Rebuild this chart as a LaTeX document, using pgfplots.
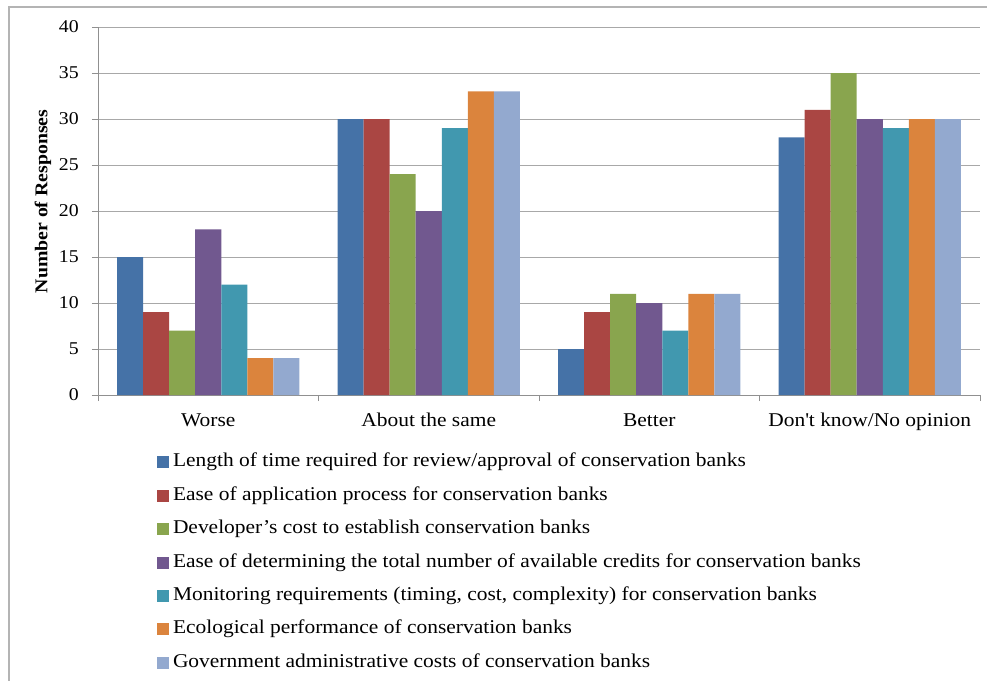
\documentclass[border=0pt]{standalone}
\usepackage{fontspec}
\setmainfont[FakeStretch=1.1]{Liberation Serif}
\usepackage{pgfplots}
\pgfplotsset{compat=1.18}
\usepackage{pgfplotstable}

\definecolor{cA}{HTML}{4572A7}
\definecolor{cB}{HTML}{AA4643}
\definecolor{cC}{HTML}{89A54E}
\definecolor{cD}{HTML}{71588F}
\definecolor{cE}{HTML}{4198AF}
\definecolor{cF}{HTML}{DB843D}
\definecolor{cG}{HTML}{93A9CF}
\definecolor{gridc}{HTML}{A8A8A8}
\definecolor{axisc}{HTML}{909090}
\definecolor{framec}{HTML}{B4B4B4}

% responses per category: Worse, About the same, Better, Don't know
\pgfplotstableread{
x s1 s2 s3 s4 s5 s6 s7
0 15 9  7  18 12 4  4
1 30 30 24 20 29 33 33
2 5  9  11 10 7  11 11
3 28 31 35 30 29 30 30
}\responses

\begin{document}
\begin{tikzpicture}
\useasboundingbox (0,0) rectangle (987bp,-681bp);
% chart frame
\draw[framec, line width=1.3bp] (9bp,-690bp) -- (9bp,-7bp) -- (1000bp,-7bp);
\begin{axis}[
  at={(98bp,-395bp)}, anchor=south west,
  scale only axis, width=882bp, height=368bp,
  ybar=0pt, bar width=0.118,
  xmin=-0.5, xmax=3.5, ymin=0, ymax=40,
  axis lines*=left,
  axis line style={axisc, line width=0.9bp},
  xtick={0,1,2,3},
  xticklabels={Worse, About the same, Better, Don\textquotesingle t know/No opinion},
  minor xtick={-0.5,0.5,1.5,2.5,3.5},
  ytick={0,5,...,40},
  tick align=outside,
  major tick length=6bp, minor tick length=6bp,
  x tick style={draw=none},
  minor x tick style={draw=axisc, line width=0.9bp},
  y tick style={axisc, line width=0.9bp},
  ymajorgrids, major grid style={gridc, line width=1bp},
  /pgf/number format/assume math mode=true,
  yticklabel style={font=\fontsize{18bp}{20bp}\selectfont, inner sep=0pt, xshift=-13bp},
  xticklabel style={font=\fontsize{19.5bp}{22bp}\selectfont, inner sep=0pt, text height=13bp, text depth=4bp, yshift=-12bp},
  ylabel={\bfseries Number of Responses},
  ylabel style={font=\fontsize{18bp}{20bp}\selectfont, at={(axis description cs:-0.0624,0.526)}, anchor=center},
  legend cell align=left,
  legend style={
    at={(axis description cs:0.0669,-0.160)}, anchor=north west,
    draw=none, fill=none, inner sep=0pt, outer sep=0pt,
    font=\fontsize{19.5bp}{22bp}\selectfont,
    row sep=16.4bp,
    nodes={inner sep=0pt, text height=13bp, text depth=4bp},
    /tikz/every odd column/.append style={column sep=4bp},
  },
  legend image code/.code={\fill[#1, draw=none] (0bp,-6bp) rectangle (12bp,6bp);},
]
\addplot[fill=cA, draw=none] table[x=x, y=s1] {\responses};
\addplot[fill=cB, draw=none] table[x=x, y=s2] {\responses};
\addplot[fill=cC, draw=none] table[x=x, y=s3] {\responses};
\addplot[fill=cD, draw=none] table[x=x, y=s4] {\responses};
\addplot[fill=cE, draw=none] table[x=x, y=s5] {\responses};
\addplot[fill=cF, draw=none] table[x=x, y=s6] {\responses};
\addplot[fill=cG, draw=none] table[x=x, y=s7] {\responses};
\legend{
  Length of time required for review/approval of conservation banks,
  Ease of application process for conservation banks,
  Developer’s cost to establish conservation banks,
  Ease of determining the total number of available credits for conservation banks,
  {Monitoring requirements (timing, cost, complexity) for conservation banks},
  Ecological performance of conservation banks,
  Government administrative costs of conservation banks}
\end{axis}
\end{tikzpicture}
\end{document}
